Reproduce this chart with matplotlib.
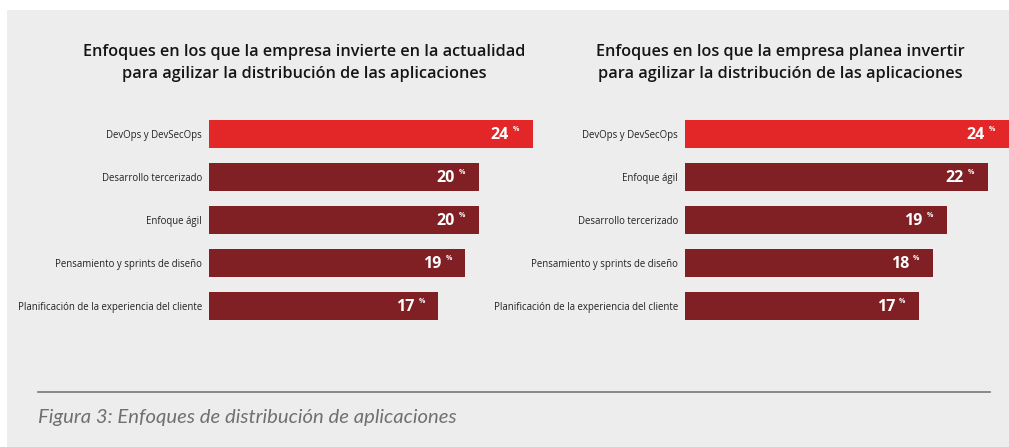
import matplotlib
matplotlib.use('Agg')
import matplotlib.pyplot as plt
from matplotlib.patches import Rectangle
from matplotlib.lines import Line2D

# --- data ---
left_title = "Enfoques en los que la empresa invierte en la actualidad\npara agilizar la distribución de las aplicaciones"
left_labels = ["DevOps y DevSecOps", "Desarrollo tercerizado", "Enfoque ágil",
               "Pensamiento y sprints de diseño", "Planificación de la experiencia del cliente"]
left_values = [24, 20, 20, 19, 17]

right_title = "Enfoques en los que la empresa planea invertir\npara agilizar la distribución de las aplicaciones"
right_labels = ["DevOps y DevSecOps", "Enfoque ágil", "Desarrollo tercerizado",
                "Pensamiento y sprints de diseño", "Planificación de la experiencia del cliente"]
right_values = [24, 22, 19, 18, 17]

caption = "Figura 3: Enfoques de distribución de aplicaciones"

RED = "#e32628"
DARK = "#801f24"
BG = "#ededed"
FONT = "Open Sans"

W, H = 1009, 447
fig = plt.figure(figsize=(W / 100, H / 100), dpi=100, facecolor="white")

# gray panel
fig.patches.append(Rectangle((7 / W, 0), 1 - 7 / W, 1 - 10 / H, transform=fig.transFigure,
                             facecolor=BG, edgecolor="none", zorder=-5))


def px_axes(x0, x1, y0, y1):
    # pixel box (top-left origin) -> figure fraction axes
    return fig.add_axes([x0 / W, 1 - y1 / H, (x1 - x0) / W, (y1 - y0) / H])


def draw(ax, labels, values, xmax):
    ax.set_facecolor("none")
    colors = [RED] + [DARK] * (len(values) - 1)
    ypos = range(len(values))
    ax.barh(ypos, values, height=0.66, color=colors, zorder=2)
    ax.set_xlim(0, xmax)
    ax.set_ylim(len(values) - 0.5, -0.5)
    ax.set_yticks(list(ypos))
    ax.set_yticklabels(labels, fontsize=6.9, color="#222222", family=FONT)
    ax.tick_params(axis="y", length=0, pad=5)
    ax.set_xticks([])
    for s in ax.spines.values():
        s.set_visible(False)
    for y, v in zip(ypos, values):
        xr = min(v, xmax)
        ax.annotate(str(v), (xr, y), xytext=(-17.5, -0.5), textcoords="offset points",
                    ha="right", va="center", color="white", fontsize=11.5,
                    fontweight="bold", family=FONT)
        ax.annotate("%", (xr, y), xytext=(-14.5, 3.5), textcoords="offset points",
                    ha="left", va="center", color="white", fontsize=5,
                    fontweight="bold", family=FONT)


axl = px_axes(209, 537, 112.5, 327.5)
draw(axl, left_labels, left_values, 24.3)
axr = px_axes(685, 1009, 112.5, 327.5)
draw(axr, right_labels, right_values, 23.5)

fig.text(304 / W, 1 - 63 / H, left_title, ha="center", va="center", fontsize=11.7,
         fontweight="semibold", color="#151515", family=FONT, linespacing=1.5)
fig.text(780 / W, 1 - 63 / H, right_title, ha="center", va="center", fontsize=11.7,
         fontweight="semibold", color="#151515", family=FONT, linespacing=1.5)

fig.lines.append(Line2D([38 / W, 990 / W], [1 - 392 / H, 1 - 392 / H], transform=fig.transFigure,
                        color="#777777", linewidth=1.2))
fig.text(38 / W, 1 - 418 / H, caption, ha="left", va="center", fontsize=14.6,
         style="italic", color="#707070", family="Lato")

fig.savefig("out.png", dpi=100, facecolor=fig.get_facecolor())
